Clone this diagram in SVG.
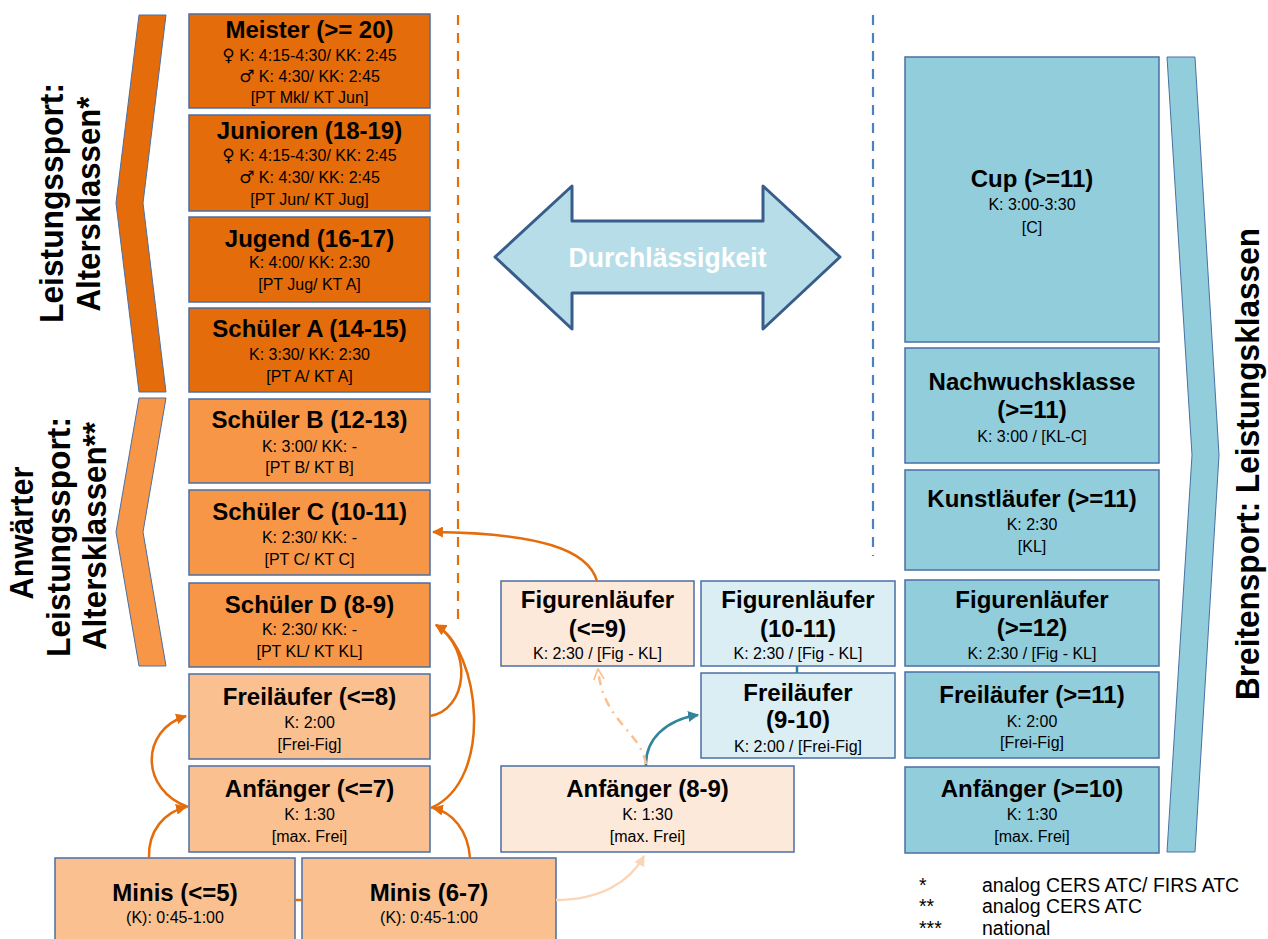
<svg xmlns="http://www.w3.org/2000/svg" width="1268" height="939" viewBox="0 0 1268 939">
<defs>
<style>
.bx{stroke:#4A6FA5;stroke-width:1.5}
.c1{fill:#E46C0A}.c2{fill:#F79646}.c3{fill:#FAC090}.c4{fill:#FDE9D9}
.b1{fill:#DAEEF3}.b2{fill:#92CDDC}
text{font-family:"Liberation Sans",Arial,sans-serif;fill:#000;text-anchor:middle}
.t{font-size:24px;font-weight:bold}
.s{font-size:16px}
.sym{font-family:"DejaVu Sans",sans-serif;font-size:17px}
.big{font-size:34px;font-weight:bold}
.lg{font-size:19.5px;text-anchor:start}
.con{fill:none;stroke:#E46C0A;stroke-width:2.5}
</style>
<marker id="ao" viewBox="0 0 10 10" refX="9" refY="5" markerWidth="4.4" markerHeight="4.4" orient="auto" markerUnits="strokeWidth"><path d="M0,0L10,5L0,10z" fill="#E46C0A"/></marker>
<marker id="at" viewBox="0 0 10 10" refX="9" refY="5" markerWidth="4.4" markerHeight="4.4" orient="auto" markerUnits="strokeWidth"><path d="M0,0L10,5L0,10z" fill="#31849B"/></marker>
<marker id="al" viewBox="0 0 10 10" refX="9" refY="5" markerWidth="4.4" markerHeight="4.4" orient="auto" markerUnits="strokeWidth"><path d="M0,0L10,5L0,10z" fill="#FBD5B5"/></marker>
<marker id="av" viewBox="0 0 12 12" refX="11" refY="6" markerWidth="5" markerHeight="5" orient="auto" markerUnits="strokeWidth"><path d="M1,1L11,6L1,11" fill="none" stroke="#FAC090" stroke-width="1.6"/></marker>
</defs>
<rect width="1268" height="939" fill="#fff"/>

<!-- dashed separators -->
<line x1="458" y1="15" x2="458" y2="622" stroke="#E46C0A" stroke-width="2.2" stroke-dasharray="10,8"/>
<line x1="873" y1="15" x2="873" y2="556" stroke="#4F81BD" stroke-width="2.2" stroke-dasharray="10,8"/>

<!-- chevrons and side titles -->
<g id="chevron-leistung">
<polygon points="139,15 166,15 143,203 166,392 139,392 116,203" fill="#E46C0A" stroke="#4A6FA5" stroke-width="1"/>
<text class="big" transform="translate(63,203) rotate(-90)" textLength="240" lengthAdjust="spacingAndGlyphs">Leistungssport:</text>
<text class="big" transform="translate(100,204) rotate(-90)" textLength="215" lengthAdjust="spacingAndGlyphs">Altersklassen*</text>
</g>
<g id="chevron-anwaerter">
<polygon points="139,398 166,398 143,532 166,666 139,666 116,532" fill="#F79646" stroke="#4A6FA5" stroke-width="1"/>
<text class="big" transform="translate(33,533) rotate(-90)" textLength="133" lengthAdjust="spacingAndGlyphs">Anwärter</text>
<text class="big" transform="translate(70,537) rotate(-90)" textLength="240" lengthAdjust="spacingAndGlyphs">Leistungssport:</text>
<text class="big" transform="translate(106,536) rotate(-90)" textLength="228" lengthAdjust="spacingAndGlyphs">Altersklassen**</text>
</g>
<g id="chevron-breitensport">
<polygon points="1167,57 1195,57 1219,455 1195,852 1167,852 1192,455" fill="#92CDDC" stroke="#4A6FA5" stroke-width="1"/>
<text class="big" transform="translate(1259,464) rotate(-90)" textLength="472" lengthAdjust="spacingAndGlyphs">Breitensport: Leistungsklassen</text>
</g>

<!-- Durchlaessigkeit double arrow -->
<g id="durchlaessigkeit">
<polygon points="495,257 572,186 572,221 763,221 763,186 840,257 763,329 763,293 572,293 572,329" fill="#B7DEE8" stroke="#385D8A" stroke-width="3" stroke-linejoin="round"/>
<text x="667.5" y="267" font-size="28" font-weight="bold" style="fill:#fff" textLength="198" lengthAdjust="spacingAndGlyphs">Durchlässigkeit</text>
</g>

<!-- left column -->
<g id="meister"><rect class="bx c1" x="189" y="14" width="241" height="94"/>
<text class="t" x="309.5" y="38">Meister (&gt;= 20)</text>
<text class="s" x="309.5" y="61"><tspan class="sym">♀</tspan> K: 4:15-4:30/ KK: 2:45</text>
<text class="s" x="309.5" y="82"><tspan class="sym">♂</tspan> K: 4:30/ KK: 2:45</text>
<text class="s" x="309.5" y="103">[PT Mkl/ KT Jun]</text></g>
<g id="junioren"><rect class="bx c1" x="189" y="115" width="241" height="96"/>
<text class="t" x="309.5" y="139">Junioren (18-19)</text>
<text class="s" x="309.5" y="161"><tspan class="sym">♀</tspan> K: 4:15-4:30/ KK: 2:45</text>
<text class="s" x="309.5" y="183"><tspan class="sym">♂</tspan> K: 4:30/ KK: 2:45</text>
<text class="s" x="309.5" y="205">[PT Jun/ KT Jug]</text></g>
<g id="jugend"><rect class="bx c1" x="189" y="217" width="241" height="85"/>
<text class="t" x="309.5" y="247">Jugend (16-17)</text>
<text class="s" x="309.5" y="268">K: 4:00/ KK: 2:30</text>
<text class="s" x="309.5" y="290">[PT Jug/ KT A]</text></g>
<g id="schueler-a"><rect class="bx c1" x="189" y="308" width="241" height="84"/>
<text class="t" x="309.5" y="337">Schüler A (14-15)</text>
<text class="s" x="309.5" y="360">K: 3:30/ KK: 2:30</text>
<text class="s" x="309.5" y="382">[PT A/ KT A]</text></g>
<g id="schueler-b"><rect class="bx c2" x="189" y="399" width="241" height="84"/>
<text class="t" x="309.5" y="428">Schüler B (12-13)</text>
<text class="s" x="309.5" y="452">K: 3:00/ KK: -</text>
<text class="s" x="309.5" y="473">[PT B/ KT B]</text></g>
<g id="schueler-c"><rect class="bx c2" x="189" y="490" width="241" height="85"/>
<text class="t" x="309.5" y="520">Schüler C (10-11)</text>
<text class="s" x="309.5" y="543">K: 2:30/ KK: -</text>
<text class="s" x="309.5" y="565">[PT C/ KT C]</text></g>
<g id="schueler-d"><rect class="bx c2" x="189" y="583" width="241" height="84"/>
<text class="t" x="309.5" y="613">Schüler D (8-9)</text>
<text class="s" x="309.5" y="635">K: 2:30/ KK: -</text>
<text class="s" x="309.5" y="657">[PT KL/ KT KL]</text></g>
<g id="freilaeufer-8"><rect class="bx c3" x="189" y="674" width="241" height="85"/>
<text class="t" x="309.5" y="705">Freiläufer (&lt;=8)</text>
<text class="s" x="309.5" y="728">K: 2:00</text>
<text class="s" x="309.5" y="750">[Frei-Fig]</text></g>
<g id="anfaenger-7"><rect class="bx c3" x="189" y="766" width="241" height="86"/>
<text class="t" x="309.5" y="797">Anfänger (&lt;=7)</text>
<text class="s" x="309.5" y="820">K: 1:30</text>
<text class="s" x="309.5" y="842">[max. Frei]</text></g>
<g id="minis-5"><rect class="bx c3" x="55" y="858" width="240" height="95"/>
<text class="t" x="175" y="901">Minis (&lt;=5)</text>
<text class="s" x="175" y="923">(K): 0:45-1:00</text></g>
<g id="minis-6-7"><rect class="bx c3" x="302" y="858" width="254" height="95"/>
<text class="t" x="429" y="901">Minis (6-7)</text>
<text class="s" x="429" y="923">(K): 0:45-1:00</text></g>

<!-- middle column -->
<g id="figuren-9"><rect class="bx c4" x="501" y="581" width="193" height="85"/>
<text class="t" x="597.5" y="608">Figurenläufer</text>
<text class="t" x="597.5" y="637">(&lt;=9)</text>
<text class="s" x="597.5" y="659">K: 2:30 / [Fig - KL]</text></g>
<g id="figuren-10-11"><rect class="bx b1" x="701" y="581" width="194" height="85"/>
<text class="t" x="798" y="608">Figurenläufer</text>
<text class="t" x="798" y="637">(10-11)</text>
<text class="s" x="798" y="659">K: 2:30 / [Fig - KL]</text></g>
<g id="frei-9-10"><rect class="bx b1" x="701" y="673" width="194" height="85"/>
<text class="t" x="798" y="701">Freiläufer</text>
<text class="t" x="798" y="728">(9-10)</text>
<text class="s" x="798" y="752">K: 2:00 / [Frei-Fig]</text></g>
<g id="anfaenger-8-9"><rect class="bx c4" x="501" y="766" width="293" height="86"/>
<text class="t" x="647.5" y="797">Anfänger (8-9)</text>
<text class="s" x="647.5" y="820">K: 1:30</text>
<text class="s" x="647.5" y="842">[max. Frei]</text></g>

<!-- right column -->
<g id="cup"><rect class="bx b2" x="905" y="57" width="254" height="285"/>
<text class="t" x="1032" y="187">Cup (&gt;=11)</text>
<text class="s" x="1032" y="210">K: 3:00-3:30</text>
<text class="s" x="1032" y="233">[C]</text></g>
<g id="nachwuchs"><rect class="bx b2" x="905" y="348" width="254" height="115"/>
<text class="t" x="1032" y="390">Nachwuchsklasse</text>
<text class="t" x="1032" y="418">(&gt;=11)</text>
<text class="s" x="1032" y="442">K: 3:00 / [KL-C]</text></g>
<g id="kunstlaeufer"><rect class="bx b2" x="905" y="470" width="254" height="100"/>
<text class="t" x="1032" y="507">Kunstläufer (&gt;=11)</text>
<text class="s" x="1032" y="530">K: 2:30</text>
<text class="s" x="1032" y="552">[KL]</text></g>
<g id="figuren-12"><rect class="bx b2" x="905" y="580" width="254" height="86"/>
<text class="t" x="1032" y="608">Figurenläufer</text>
<text class="t" x="1032" y="636">(&gt;=12)</text>
<text class="s" x="1032" y="659">K: 2:30 / [Fig - KL]</text></g>
<g id="frei-11"><rect class="bx b2" x="905" y="672" width="254" height="86"/>
<text class="t" x="1032" y="703">Freiläufer (&gt;=11)</text>
<text class="s" x="1032" y="727">K: 2:00</text>
<text class="s" x="1032" y="748">[Frei-Fig]</text></g>
<g id="anfaenger-10"><rect class="bx b2" x="905" y="767" width="254" height="86"/>
<text class="t" x="1032" y="797">Anfänger (&gt;=10)</text>
<text class="s" x="1032" y="820">K: 1:30</text>
<text class="s" x="1032" y="842">[max. Frei]</text></g>

<!-- connectors -->
<g id="connectors">
<path class="con" d="M597,581 C588,550 540,533 433,532" marker-end="url(#ao)"/>
<path class="con" d="M430,716 C467,710 474,650 436,625" marker-end="url(#ao)"/>
<path class="con" d="M431,808 C495,780 480,650 436,625" marker-end="url(#ao)"/>
<path class="con" d="M470,858 C468,830 452,812 433,808" marker-end="url(#ao)"/>
<path class="con" d="M149,858 C148,830 165,812 186,807" marker-end="url(#ao)"/>
<path class="con" d="M188,807 C140,790 140,730 186,716" marker-end="url(#ao)"/>
<line x1="295" y1="900" x2="302" y2="900" stroke="#E46C0A" stroke-width="2.5"/>
<line x1="797" y1="666" x2="797" y2="673" stroke="#31849B" stroke-width="2.5"/>
<path d="M646,766 C645,740 665,720 698,715" fill="none" stroke="#31849B" stroke-width="2.5" marker-end="url(#at)"/>
<path d="M646,764 C640,730 603,722 598,669" fill="none" stroke="#FAC090" stroke-width="2.5" stroke-dasharray="9,6,2,6" marker-end="url(#av)"/>
<path d="M556,900 C600,900 630,882 644,856" fill="none" stroke="#FBD5B5" stroke-width="2.5" marker-end="url(#al)"/>
</g>

<!-- legend -->
<g id="legend">
<text class="lg" x="919" y="892">*</text>
<text class="lg" x="982" y="892">analog CERS ATC/ FIRS ATC</text>
<text class="lg" x="919" y="913">**</text>
<text class="lg" x="982" y="913">analog CERS ATC</text>
<text class="lg" x="919" y="935">***</text>
<text class="lg" x="982" y="935">national</text>
</g>
</svg>
